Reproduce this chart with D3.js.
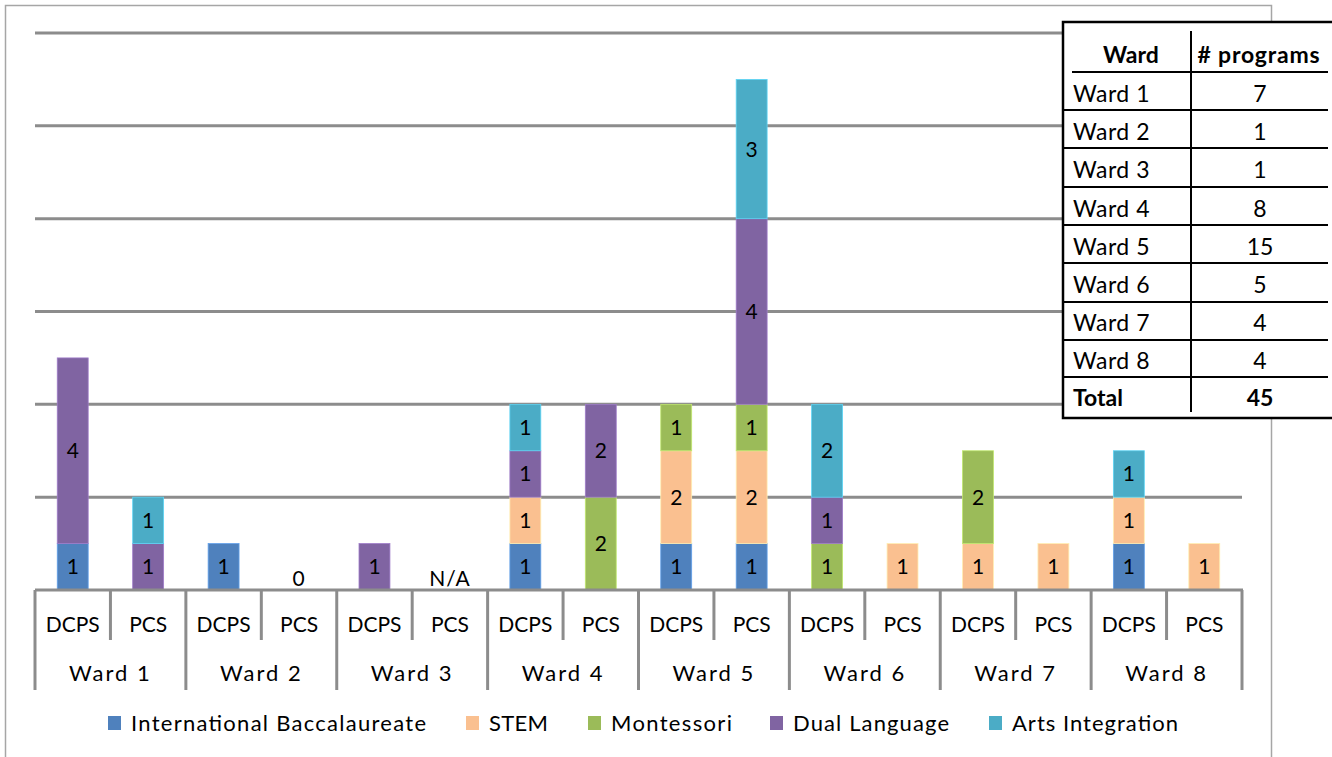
<!DOCTYPE html>
<html><head><meta charset="utf-8">
<script src="https://cdn.jsdelivr.net/npm/d3@7"></script>
<style>body{margin:0;background:#fff;}svg{display:block;}text{font-family:Lato,"Open Sans",sans-serif;}</style>
</head><body>
<svg id="c" width="1332" height="757"></svg>
<script>
const wards = ["Ward 1","Ward 2","Ward 3","Ward 4","Ward 5","Ward 6","Ward 7","Ward 8"];
const sectors = ["DCPS","PCS"];
const programs = ["International Baccalaureate","STEM","Montessori","Dual Language","Arts Integration"];
const colors = ["#4F81BD","#FAC090","#9BBB59","#8064A2","#4BACC6"];
// values per program, order: W1 DCPS, W1 PCS, W2 DCPS, W2 PCS, ...
const ibVals   = [1,0, 1,0, 0,0, 1,0, 1,1, 0,0, 0,0, 1,0];
const stemVals = [0,0, 0,0, 0,0, 1,0, 2,2, 0,1, 1,1, 1,1];
const montVals = [0,0, 0,0, 0,0, 0,2, 1,1, 1,0, 2,0, 0,0];
const dlVals   = [4,1, 0,0, 1,0, 1,2, 0,4, 1,0, 0,0, 0,0];
const artsVals = [0,1, 0,0, 0,0, 1,0, 0,3, 2,0, 0,0, 1,0];
const emptyLabels = [{idx:3,text:"0"},{idx:5,text:"N/A"}];
const yTicks = [0,2,4,6,8,10,12];
const tableHeader = ["Ward","# programs"];
const tableWards = ["Ward 1","Ward 2","Ward 3","Ward 4","Ward 5","Ward 6","Ward 7","Ward 8"];
const tableCounts = [7,1,1,8,15,5,4,4];
const tableTotal = ["Total",45];

const svg = d3.select("#c");
const X0 = 35, X1 = 1242, Y0 = 590, Y1 = 33;
const cats = [];
wards.forEach(w => sectors.forEach(s => cats.push(w + "|" + s)));
const x = d3.scaleBand().domain(cats).range([X0, X1]).paddingInner(0.59).paddingOuter(0.295);
const xw = d3.scaleBand().domain(wards).range([X0, X1]);
const y = d3.scaleLinear().domain([0, 12]).range([Y0, Y1]);
const step = (X1 - X0) / cats.length;
const grey = "#8c8c8c";

// outer frame
svg.append("rect").attr("x",5.5).attr("y",5.5).attr("width",1266).attr("height",800)
  .attr("fill","none").attr("stroke","#a6a6a6").attr("stroke-width",1.5);

// gridlines
svg.append("g").selectAll("line").data(yTicks.filter(t => t > 0)).join("line")
  .attr("x1", X0).attr("x2", X1).attr("y1", d => y(d)).attr("y2", d => y(d))
  .attr("stroke", grey).attr("stroke-width", 3);

// stacked data
const rows = cats.map((c, i) => ({cat: c, p0: ibVals[i], p1: stemVals[i], p2: montVals[i], p3: dlVals[i], p4: artsVals[i]}));
const stack = d3.stack().keys(["p0","p1","p2","p3","p4"])(rows);
const barG = svg.append("g");
stack.forEach((layer, li) => {
  const g = barG.append("g");
  layer.forEach((d, i) => {
    const v = d[1] - d[0];
    if (v <= 0) return;
    const bx = x(cats[i]), bw = x.bandwidth();
    g.append("rect").attr("x", bx).attr("y", y(d[1])).attr("width", bw).attr("height", y(d[0]) - y(d[1]))
      .attr("fill", colors[li]).attr("stroke", d3.color(colors[li]).brighter(0.6)).attr("stroke-width", 0.8);
    g.append("text").attr("x", bx + bw / 2).attr("y", (y(d[0]) + y(d[1])) / 2 + 7.5)
      .attr("text-anchor", "middle").attr("font-size", 21).attr("fill", "#000").text(v);
  });
});
emptyLabels.forEach(e => {
  svg.append("text").attr("x", x(cats[e.idx]) + x.bandwidth() / 2).attr("y", Y0 - 4)
    .attr("text-anchor","middle").attr("font-size", 21).attr("letter-spacing", 1).text(e.text);
});

// axis line
svg.append("line").attr("x1", X0).attr("x2", X1 + 1).attr("y1", Y0).attr("y2", Y0)
  .attr("stroke", grey).attr("stroke-width", 3);
// tick separators
d3.range(cats.length + 1).forEach(k => {
  const xx = X0 + k * step;
  svg.append("line").attr("x1", xx).attr("x2", xx).attr("y1", Y0).attr("y2", k % 2 === 0 ? 690 : 640)
    .attr("stroke", grey).attr("stroke-width", 3);
});
// category labels
svg.append("g").selectAll("text").data(cats).join("text")
  .attr("x", d => x(d) + x.bandwidth() / 2).attr("y", 632).attr("text-anchor","middle")
  .attr("font-size", 21).attr("fill","#000").text(d => d.split("|")[1]);
svg.append("g").selectAll("text").data(wards).join("text")
  .attr("x", d => xw(d) + xw.bandwidth() / 2).attr("y", 681).attr("text-anchor","middle")
  .attr("font-size", 22).attr("letter-spacing", 2).attr("fill","#000").text(d => d);

// legend
const legX = [108, 466, 588, 770, 989];
const legW = [295, 59, 121, 156, 166];
const leg = svg.append("g");
programs.forEach((p, i) => {
  leg.append("rect").attr("x", legX[i]).attr("y", 716).attr("width", 13).attr("height", 14).attr("fill", colors[i]);
  leg.append("text").attr("x", legX[i] + 23).attr("y", 731).attr("font-size", 22)
    .attr("textLength", legW[i]).attr("lengthAdjust", "spacing").attr("fill","#000").text(p);
});

// table
const T = svg.append("g");
T.append("rect").attr("x", 1063).attr("y", 22).attr("width", 290).attr("height", 396)
  .attr("fill","#fff").attr("stroke","#000").attr("stroke-width", 2.5);
T.append("line").attr("x1", 1191).attr("x2", 1191).attr("y1", 31).attr("y2", 412).attr("stroke","#000").attr("stroke-width", 2);
const rowLineY = [72, 110, 148, 187, 225, 263, 302, 340, 377];
rowLineY.forEach((ly, i) => {
  T.append("line").attr("x1", i === 0 ? 1072 : 1064).attr("x2", 1328).attr("y1", ly).attr("y2", ly)
    .attr("stroke","#000").attr("stroke-width", 2);
});
const tfs = 23;
T.append("text").attr("x", 1131).attr("y", 63).attr("text-anchor","middle").attr("font-size", tfs).attr("font-weight","bold").text(tableHeader[0]);
T.append("text").attr("x", 1259).attr("y", 63).attr("text-anchor","middle").attr("font-size", tfs).attr("font-weight","bold").attr("letter-spacing", 0.8).text(tableHeader[1]);
tableWards.forEach((w, i) => {
  const cy = 102 + i * 38.2;
  T.append("text").attr("x", 1073).attr("y", cy).attr("font-size", tfs).attr("letter-spacing", 0.5).text(w);
  T.append("text").attr("x", 1260).attr("y", cy).attr("text-anchor","middle").attr("font-size", tfs).text(tableCounts[i]);
});
T.append("text").attr("x", 1073).attr("y", 406).attr("font-size", tfs).attr("font-weight","bold").text(tableTotal[0]);
T.append("text").attr("x", 1260).attr("y", 406).attr("text-anchor","middle").attr("font-size", tfs).attr("font-weight","bold").text(tableTotal[1]);
</script>
</body></html>
